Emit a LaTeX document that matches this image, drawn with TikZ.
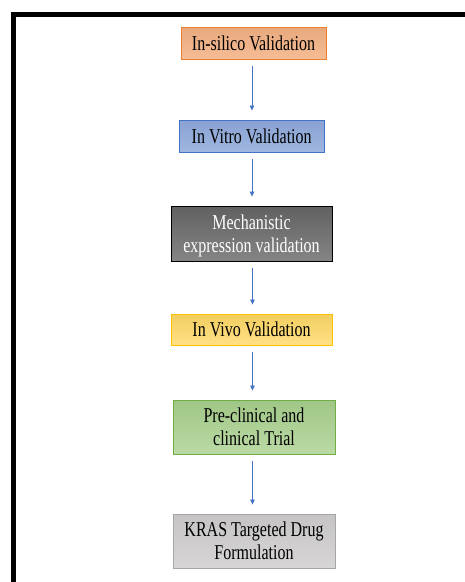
\documentclass[tikz,border=0pt]{standalone}
\usepackage{fontspec}
\setmainfont{Liberation Serif}
\usepackage{graphicx}
\usetikzlibrary{arrows.meta}
\newcommand\vst[1]{\raisebox{-2.5pt}[\height][\depth]{\scalebox{1}[1.32]{\begin{tabular}{@{}c@{}}#1\end{tabular}}}}
\definecolor{orfill}{HTML}{F4B183}
\definecolor{orline}{HTML}{ED7D31}
\definecolor{blfill}{HTML}{8FAADC}
\definecolor{blline}{HTML}{4472C4}
\definecolor{yefill}{HTML}{FFD966}
\definecolor{yeline}{HTML}{FFC000}
\definecolor{grfill}{HTML}{A9D18E}
\definecolor{grline}{HTML}{70AD47}
\definecolor{gyfill}{HTML}{D0CECE}
\definecolor{gyline}{HTML}{A6A6A6}
\begin{document}
\begin{tikzpicture}[x=1pt,y=-1pt,
  box/.style={draw, line width=0.9pt, inner sep=0pt, font=\fontsize{16}{17.6}\selectfont},
  flow/.style={draw=blline, line width=0.8pt, -{Triangle[width=4.5pt,length=5pt]}, shorten <=7pt, shorten >=9pt}]
\useasboundingbox (0,0) rectangle (465,582);
\begin{scope}
\clip (0,0) rectangle (465,582);
\draw[line width=4.8pt] (13.3,600) -- (13.3,14.5) -- (480,14.5);
\end{scope}
\node[box, draw=orline, top color=orfill!95!black, bottom color=orfill!85!white, minimum width=145pt, minimum height=32pt] (b1) at (253.5,43) {\vst{In-silico Validation}};
\node[box, draw=blline, top color=blfill!95!black, bottom color=blfill!85!white, minimum width=145pt, minimum height=32pt] (b2) at (251.7,136) {\vst{In Vitro Validation}};
\node[box, draw=black, top color=black!62, bottom color=black!48, text=white, minimum width=161pt, minimum height=55pt] (b3) at (251.5,233.5) {\vst{Mechanistic\\expression validation}};
\node[box, draw=yeline, top color=yefill!95!black, bottom color=yefill!80!white, minimum width=161pt, minimum height=31pt] (b4) at (251.5,329.5) {\vst{In Vivo Validation}};
\node[box, draw=grline, top color=grfill!95!black, bottom color=grfill!80!white, minimum width=162pt, minimum height=54pt] (b5) at (254,427) {\vst{Pre-clinical and\\clinical Trial}};
\node[box, draw=gyline, top color=gyfill!95!black, bottom color=gyfill!85!white, minimum width=162pt, minimum height=54pt] (b6) at (254,541) {\vst{KRAS Targeted Drug\\Formulation}};
\draw[flow] (b1.south -| 252,0) -- (b2.north -| 252,0);
\draw[flow] (b2.south -| 252,0) -- (b3.north -| 252,0);
\draw[flow] (b3.south -| 252.5,0) -- (b4.north -| 252.5,0);
\draw[flow] (b4.south -| 252.5,0) -- (b5.north -| 252.5,0);
\draw[flow] (b5.south -| 252.5,0) -- (b6.north -| 252.5,0);
\end{tikzpicture}
\end{document}
